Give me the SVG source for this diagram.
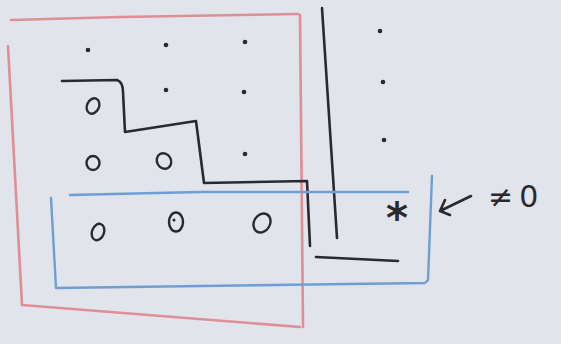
<svg xmlns="http://www.w3.org/2000/svg" width="561" height="344" viewBox="0 0 561 344">
<style>
.ink{fill:none;stroke:#2a2a2e;stroke-width:2.6;stroke-linecap:round;stroke-linejoin:round}
.red{fill:none;stroke:#dd8f95;stroke-width:2.6;stroke-linecap:round;stroke-linejoin:round}
.blue{fill:none;stroke:#6f9fd2;stroke-width:2.4;stroke-linecap:round;stroke-linejoin:round}
.dot{fill:#2a2a2e}
.o{fill:none;stroke:#2a2a2e;stroke-width:2.4}
.t{font-family:"DejaVu Sans",sans-serif;fill:#2a2a2e}
</style>
<rect width="561" height="344" fill="#e1e4eb"/>
<g id="red-box">
<path class="red" d="M11,20 L120,17 L298,14 M8,46 L22,305 L300,327 M300,15 L303,327"/>
</g>
<g id="dots">
<circle class="dot" cx="88" cy="50" r="2.3"/>
<circle class="dot" cx="166" cy="45" r="2.3"/>
<circle class="dot" cx="245" cy="42" r="2.3"/>
<circle class="dot" cx="166" cy="90" r="2.3"/>
<circle class="dot" cx="244" cy="92" r="2.3"/>
<circle class="dot" cx="245" cy="154" r="2.3"/>
<circle class="dot" cx="380" cy="31" r="2.3"/>
<circle class="dot" cx="383" cy="82" r="2.3"/>
<circle class="dot" cx="384" cy="140" r="2.3"/>
</g>
<g id="zeros">
<ellipse class="o" cx="93" cy="106" rx="6" ry="8" transform="rotate(25 93 106)"/>
<ellipse class="o" cx="93" cy="163" rx="6.5" ry="7"/>
<ellipse class="o" cx="164" cy="161" rx="7" ry="8" transform="rotate(-30 164 161)"/>
<ellipse class="o" cx="98" cy="232" rx="6" ry="8.5" transform="rotate(20 98 232)"/>
<ellipse class="o" cx="176" cy="222" rx="7" ry="9.5"/>
<ellipse class="o" cx="262" cy="223" rx="8" ry="10" transform="rotate(30 262 223)"/>
<circle class="dot" cx="174" cy="220" r="1.5"/>
</g>
<g id="staircase">
<path class="ink" d="M62,81 L117,80 Q123,82 123,92 L125,132 L196,121 L204,183 L307,181 L310,246"/>
<path class="ink" d="M322,8 L337,238"/>
<path class="ink" d="M316,257 L398,261"/>
</g>
<g id="blue-box">
<path class="blue" d="M70,195 L200,192 L408,192"/>
<path class="blue" d="M51,198 L56,288 L425,283 L428,280 L432,176"/>
</g>
<text class="t" x="397" y="233" font-size="42" font-weight="bold" text-anchor="middle">*</text>
<g id="label">
<path class="ink" d="M471,196 L440,211 M440,211 L445,200 M440,211 L450,215"/>
<text class="t" x="488" y="207" font-size="30" letter-spacing="6">≠0</text>
</g>
</svg>
